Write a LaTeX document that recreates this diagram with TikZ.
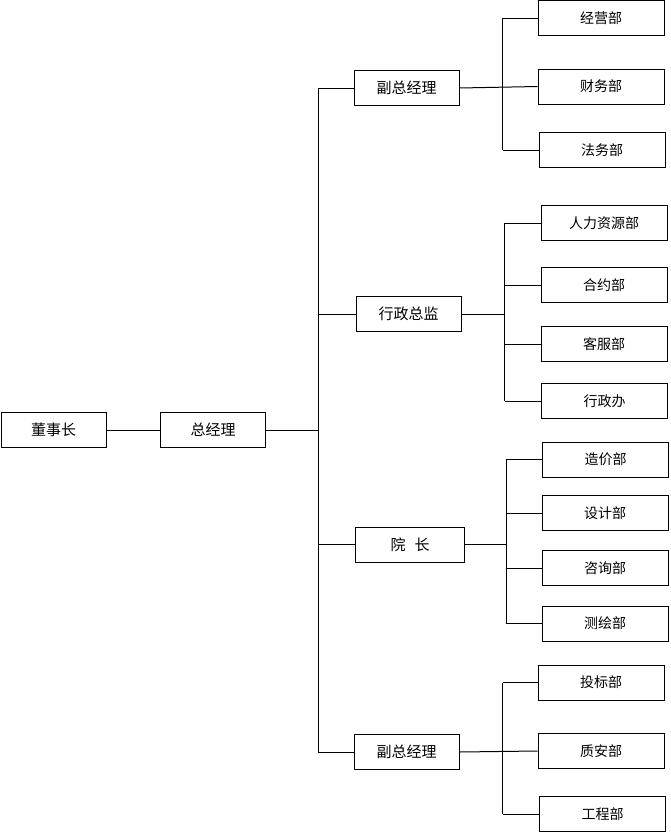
\documentclass[tikz,border=0pt]{standalone}
\usepackage{fontspec}
\setmainfont{Noto Sans CJK SC}
\usetikzlibrary{positioning}

\begin{document}
\begin{tikzpicture}[
						x=1pt, y=-1pt,
						head/.style = {draw, rectangle, line width=1pt, minimum width=105pt, minimum height=35pt, align=center, font=\fontsize{15}{15}\selectfont},
						dept/.style = {draw, rectangle, line width=1pt, minimum width=126pt, minimum height=35pt, align=center, font=\fontsize{14}{14}\selectfont},
						link/.style = {line width=1pt}
					]

					\useasboundingbox (0,0) rectangle (670,833);

					\node[head] (chair) at (53.5,430) {董事长};
					\node[head] (gm) at (213,430) {总经理};

					\node[head] (vpa) at (406.5,88) {副总经理};
					\node[head] (admin) at (408.5,314) {行政总监};
					\node[head, minimum width=109pt] (dean) at (410,544.5) {院\hspace{0.6em}长};
					\node[head] (vpb) at (406.5,752) {副总经理};

					\node[dept] (biz) at (601,18) {经营部};
					\node[dept] (fin) at (601,86.5) {财务部};
					\node[dept] (law) at (602,150) {法务部};

					\node[dept] (hr) at (604,223) {人力资源部};
					\node[dept] (contract) at (604,285) {合约部};
					\node[dept] (service) at (604,344) {客服部};
					\node[dept] (office) at (604.5,401) {行政办};

					\node[dept] (cost) at (605.5,459.5) {造价部};
					\node[dept] (design) at (605,513) {设计部};
					\node[dept] (consult) at (605,568) {咨询部};
					\node[dept] (survey) at (605,623.5) {测绘部};

					\node[dept] (bid) at (601,682.5) {投标部};
					\node[dept] (safety) at (601,751) {质安部};
					\node[dept] (works) at (602.5,814) {工程部};

					\coordinate (trunk) at (318,0);
					\coordinate (spa) at (502.5,0);
					\coordinate (spb) at (504.5,0);
					\coordinate (spc) at (506,0);
					\coordinate (spd) at (502.5,0);

					\draw[link] (chair) -- (gm);
					\draw[link] (gm.east) -- (gm.east -| trunk);
					\draw[link] (vpa.west -| trunk) -- (vpb.west -| trunk);
					\draw[link] (vpa.west -| trunk) -- (vpa.west);
					\draw[link] (admin.west -| trunk) -- (admin.west);
					\draw[link] (dean.west -| trunk) -- (dean.west);
					\draw[link] (vpb.west -| trunk) -- (vpb.west);

					\draw[link] (vpa.east) -- (fin.west);
					\draw[link] (biz.west -| spa) -- (law.west -| spa);
					\draw[link] (biz.west -| spa) -- (biz.west);
					\draw[link] (law.west -| spa) -- (law.west);

					\draw[link] (admin.east) -- (admin.east -| spb);
					\draw[link] (hr.west -| spb) -- (office.west -| spb);
					\draw[link] (hr.west -| spb) -- (hr.west);
					\draw[link] (contract.west -| spb) -- (contract.west);
					\draw[link] (service.west -| spb) -- (service.west);
					\draw[link] (office.west -| spb) -- (office.west);

					\draw[link] (dean.east) -- (dean.east -| spc);
					\draw[link] (cost.west -| spc) -- (survey.west -| spc);
					\draw[link] (cost.west -| spc) -- (cost.west);
					\draw[link] (design.west -| spc) -- (design.west);
					\draw[link] (consult.west -| spc) -- (consult.west);
					\draw[link] (survey.west -| spc) -- (survey.west);

					\draw[link] (vpb.east) -- (safety.west);
					\draw[link] (bid.west -| spd) -- (works.west -| spd);
					\draw[link] (bid.west -| spd) -- (bid.west);
					\draw[link] (works.west -| spd) -- (works.west);
				\end{tikzpicture}
\end{document}
